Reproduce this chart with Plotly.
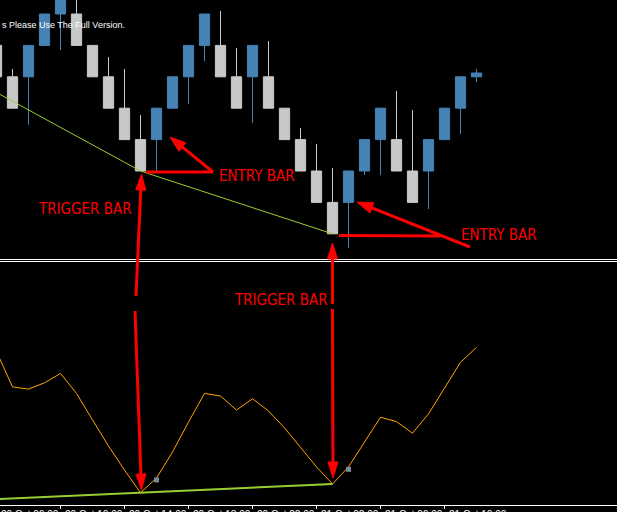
import plotly.graph_objects as go

# ---------------- data ----------------
bar_index = list(range(31))
opens  = [1.3070, 1.3060, 1.3060, 1.3070, 1.3080, 1.3080, 1.3070, 1.3060, 1.3050, 1.3040,
          1.3040, 1.3050, 1.3060, 1.3070, 1.3070, 1.3060, 1.3060, 1.3060, 1.3050, 1.3040,
          1.3030, 1.3020, 1.3020, 1.3030, 1.3040, 1.3040, 1.3030, 1.3030, 1.3040, 1.3050, 1.3060]
highs  = [1.3070, 1.30625, 1.3070, 1.3080, 1.3090, 1.3086, 1.3070, 1.30663, 1.30625, 1.30478,
          1.3050, 1.3060, 1.3070, 1.3080, 1.3081, 1.30692, 1.3070, 1.30714, 1.3050, 1.30437,
          1.30386, 1.3031, 1.3030, 1.3040, 1.3050, 1.30555, 1.30494, 1.3040, 1.3050, 1.3060, 1.30625]
lows   = [1.3060, 1.3050, 1.30447, 1.3070, 1.30685, 1.3070, 1.3060, 1.3050, 1.3040, 1.3030,
          1.3030, 1.3050, 1.30513, 1.3065, 1.3060, 1.3050, 1.30453, 1.3050, 1.3040, 1.3030,
          1.3020, 1.3010, 1.30055, 1.30287, 1.30287, 1.3030, 1.3020, 1.30179, 1.3040, 1.30418, 1.30583]
closes = [1.3060, 1.3050, 1.3070, 1.3080, 1.3090, 1.3070, 1.3060, 1.3050, 1.3040, 1.3030,
          1.3050, 1.3060, 1.3070, 1.3080, 1.3060, 1.3050, 1.3070, 1.3050, 1.3040, 1.3030,
          1.3020, 1.3010, 1.3030, 1.3040, 1.3050, 1.3030, 1.3020, 1.3040, 1.3050, 1.3060, 1.30612]

oscillator = [63.7, 49.0, 48.1, 50.7, 54.6, 46.3, 35.3, 24.5, 14.5, 5.1,
              11.2, 22.0, 34.4, 46.3, 45.2, 39.4, 44.1, 39.0, 32.0, 24.1,
              15.8, 8.7, 15.8, 26.1, 36.4, 34.6, 29.8, 37.8, 48.5, 59.2, 65.4]

price_trend_x = [0, 9, 21]
price_trend_y = [1.3055, 1.3030, 1.3010]
osc_trend_x = [0, 21]
osc_trend_y = [2.4, 8.7]
signal_x = [10, 22]
signal_y = [10.4, 14.8]

tick_index = [0, 4, 8, 12, 16, 20, 24, 28]
tick_labels = ["20 Oct 06:00", "20 Oct 10:00", "20 Oct 14:00", "20 Oct 18:00",
               "20 Oct 22:00", "21 Oct 02:00", "21 Oct 06:00", "21 Oct 10:00"]

W, H = 617, 512
MB = 7
PH = H - MB
BAR_PX = 16.0
X0_PX = -3.5
XRANGE = [-X0_PX / BAR_PX, (W - X0_PX) / BAR_PX]

BLUE = "#4682B4"
GREY = "#C8C8C8"
RED = "#FF0000"
LIME = "#9ACD32"
ORANGE = "#FFA500"

fig = go.Figure()

fig.add_trace(go.Candlestick(
    x=bar_index, open=opens, high=highs, low=lows, close=closes,
    increasing=dict(line=dict(color=BLUE, width=1), fillcolor=BLUE),
    decreasing=dict(line=dict(color=GREY, width=1), fillcolor=GREY),
    whiskerwidth=0, hoverinfo="skip", xaxis="x", yaxis="y"))

fig.add_trace(go.Scatter(x=price_trend_x, y=price_trend_y, mode="lines",
                         line=dict(color=LIME, width=1), xaxis="x", yaxis="y", hoverinfo="skip"))

fig.add_trace(go.Scatter(x=osc_trend_x, y=osc_trend_y, mode="lines",
                         line=dict(color=LIME, width=2), xaxis="x", yaxis="y2", hoverinfo="skip"))
fig.add_trace(go.Scatter(x=bar_index, y=oscillator, mode="lines",
                         line=dict(color=ORANGE, width=1), xaxis="x", yaxis="y2", hoverinfo="skip"))
fig.add_trace(go.Scatter(x=signal_x, y=signal_y, mode="markers",
                         marker=dict(symbol="square", size=5, color="#778899"),
                         xaxis="x", yaxis="y2", hoverinfo="skip"))


def P(x, y):
    return x / W, (PH - y) / PH


shapes = []
# panel separator double line
for yy in (259.5, 261.5):
    _, py = P(0, yy)
    shapes.append(dict(type="line", xref="paper", yref="paper", x0=0, x1=1, y0=py, y1=py,
                       line=dict(color="white", width=1)))


def seg(x0, y0, x1, y1, w=3):
    a = P(x0, y0)
    b = P(x1, y1)
    shapes.append(dict(type="line", xref="paper", yref="paper", x0=a[0], y0=a[1], x1=b[0], y1=b[1],
                       line=dict(color=RED, width=w)))


def arrow(x0, y0, x1, y1, hl=15, hw=10, w=3):
    dx, dy = x1 - x0, y1 - y0
    L = (dx * dx + dy * dy) ** 0.5
    ux, uy = dx / L, dy / L
    bx, by = x1 - ux * hl, y1 - uy * hl
    seg(x0, y0, bx + ux * 2, by + uy * 2, w)
    px_, py_ = -uy, ux
    pts = [(x1, y1), (bx + px_ * hw / 2, by + py_ * hw / 2), (bx - px_ * hw / 2, by - py_ * hw / 2)]
    pp = [P(*p) for p in pts]
    path = "M {} {} L {} {} L {} {} Z".format(pp[0][0], pp[0][1], pp[1][0], pp[1][1], pp[2][0], pp[2][1])
    shapes.append(dict(type="path", xref="paper", yref="paper", path=path,
                       fillcolor=RED, line=dict(color=RED, width=1)))


# entry bar 1
seg(146, 172, 213, 172)
arrow(213, 172, 170, 137, hl=16, hw=11)
# entry bar 2
seg(339, 235.5, 440, 236)
arrow(470, 247, 357, 202, hl=16, hw=11)
# trigger 1 vertical arrows
arrow(136, 296, 141.5, 174, hl=16, hw=10)
arrow(135, 311, 141.5, 490, hl=16, hw=10)
# trigger 2 vertical arrows
arrow(332.5, 304, 332.5, 243, hl=16, hw=10)
arrow(332.5, 309, 333, 478, hl=16, hw=10)

annotations = []
RFONT = dict(family="Liberation Sans Narrow, DejaVu Sans Condensed, Arial Narrow, sans-serif", size=15, color=RED)
for txt, x, y in [("ENTRY BAR", 216.5, 176), ("ENTRY BAR", 459, 235.5),
                  ("TRIGGER BAR", 36, 208.5), ("TRIGGER BAR", 232, 300)]:
    ax_, ay_ = P(x, y)
    annotations.append(dict(text=txt, x=ax_, y=ay_, xref="paper", yref="paper",
                            xanchor="left", yanchor="middle", showarrow=False, font=RFONT))

wx, wy = P(0, 25)
annotations.append(dict(text="s Please Use The Full Version.", x=wx, y=wy, xref="paper", yref="paper",
                        xanchor="left", yanchor="middle", showarrow=False,
                        font=dict(family="Liberation Sans, Arial, sans-serif", size=9, color="white")))

# time labels, left-aligned just right of each tick (paper coords so the first one is not hidden)
for ti, tl in zip(tick_index, tick_labels):
    xp = (ti - XRANGE[0]) / (XRANGE[1] - XRANGE[0])
    annotations.append(dict(text=tl, x=xp, y=0, xref="paper", yref="paper", xanchor="left", yanchor="top",
                            xshift=2, yshift=-2, showarrow=False,
                            font=dict(family="Liberation Sans, Arial, sans-serif", size=10, color="white")))

top_bottom = (PH - 258) / PH
bot_top = (PH - 264) / PH
fig.update_layout(
    width=W, height=H,
    margin=dict(l=0, r=0, t=0, b=MB, pad=0),
    paper_bgcolor="black", plot_bgcolor="black",
    showlegend=False,
    boxgap=0.36, boxgroupgap=0,
    xaxis=dict(range=XRANGE, anchor="y2", showline=True, linecolor="white",
               linewidth=1, ticks="outside", ticklen=3, tickcolor="white", tickwidth=1,
               tickvals=tick_index, showticklabels=False, showgrid=False, zeroline=False,
               rangeslider=dict(visible=False), fixedrange=True),
    yaxis=dict(domain=[top_bottom, 1], range=[1.3080 - 244 / 31400, 1.3080 + 14 / 31400],
               visible=False, showgrid=False, zeroline=False),
    yaxis2=dict(domain=[0, bot_top], range=[0, 100], visible=False, showgrid=False, zeroline=False),
    shapes=shapes,
    annotations=annotations,
)

fig.write_html("out.html", config={"displayModeBar": False},
               post_script="document.body.style.margin='0';document.body.style.overflow='hidden';")
